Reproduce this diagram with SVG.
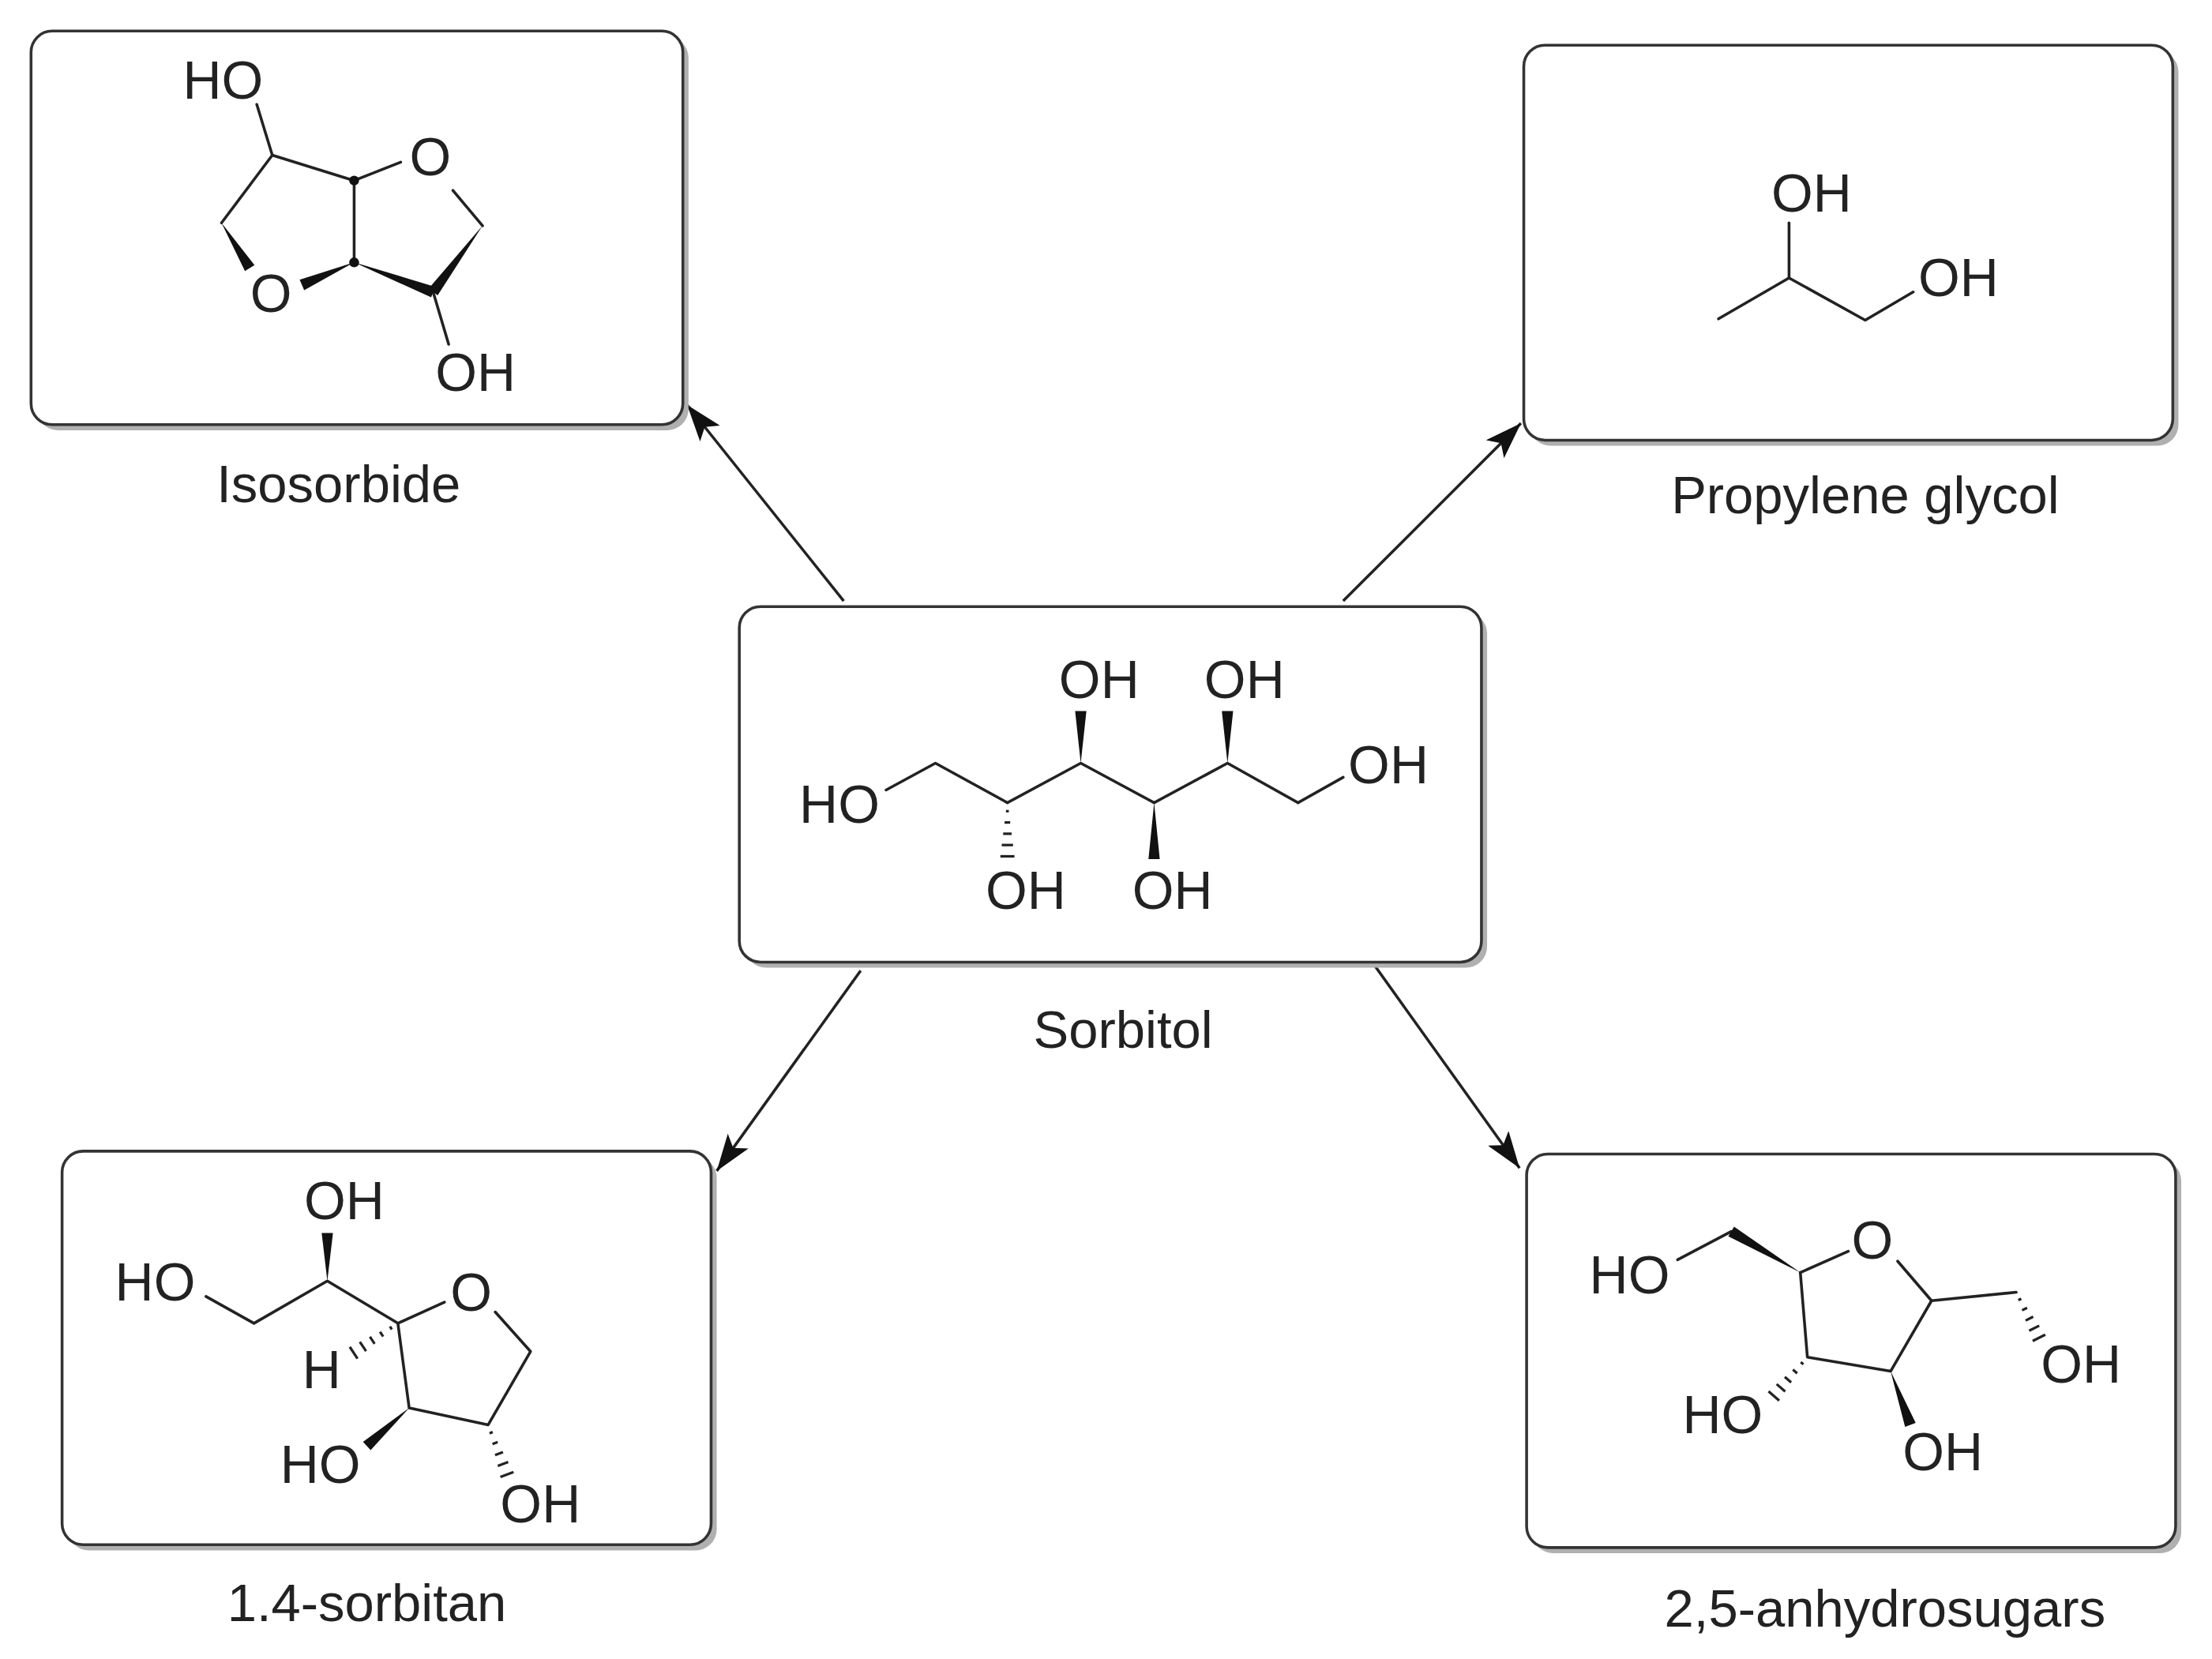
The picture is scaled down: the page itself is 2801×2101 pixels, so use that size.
<svg xmlns="http://www.w3.org/2000/svg" width="2801" height="2101" viewBox="0 0 2801 2101">
<style>
.shadow{fill:#b0b0b0}
.box{fill:#fff;stroke:#333;stroke-width:2}
.b{stroke:#222;stroke-width:2;fill:none;stroke-linecap:round;stroke-linejoin:round}
.h{stroke:#222;stroke-width:1.8;stroke-linecap:butt}
.w{fill:#111}
.t{font-family:"Liberation Sans",Arial,sans-serif;font-size:38px;fill:#222;text-anchor:middle}
.n{font-family:"Liberation Sans",Arial,sans-serif;font-size:37.5px;fill:#222;text-anchor:middle}
.arr{stroke:#222;stroke-width:2;fill:none;marker-end:url(#ah)}
</style>
<defs>
<marker id="ah" markerUnits="userSpaceOnUse" markerWidth="28" markerHeight="18" refX="26" refY="9" orient="auto">
<path d="M0,0 L26,9 L0,18 L6,9 Z" fill="#111"/>
</marker>
</defs>
<rect width="2801" height="2101" fill="#fff"/>
<g transform="scale(1.7866)">
<g id="connectors">
<line class="arr" x1="598" y1="426" x2="487" y2="287"/>
<line class="arr" x1="952" y1="426" x2="1078" y2="300"/>
<line class="arr" x1="610" y1="688" x2="508" y2="830"/>
<line class="arr" x1="974" y1="684" x2="1077" y2="828"/>
</g>
<g id="isosorbide">
<rect class="shadow" x="26" y="26" width="462" height="279" rx="15"/>
<rect class="box" x="22" y="22" width="462" height="279" rx="15"/>
<text class="t" x="158" y="70">HO</text>
<text class="t" x="305" y="124">O</text>
<text class="t" x="192" y="221">O</text>
<text class="t" x="337" y="277">OH</text>
<polyline class="b" points="182,74 193,110 251,128 251,186"/>
<line class="b" x1="251" y1="128" x2="284" y2="115"/>
<line class="b" x1="321" y1="135" x2="342" y2="160"/>
<line class="b" x1="157" y1="158" x2="193" y2="110"/>
<line class="b" x1="307" y1="207" x2="318" y2="244"/>
<polygon class="w" points="342,160 310.2,209.4 303.8,204.6"/>
<polygon class="w" points="251,186 305.6,210.75 308.4,203.25"/>
<polygon class="w" points="251,186 212.4,198.3 215.6,205.7"/>
<polygon class="w" points="157,158 173.6,192.1 180.4,187.9"/>
<circle class="w" cx="251" cy="128" r="3.5"/>
<circle class="w" cx="251" cy="186" r="3.5"/>
<text class="n" x="240" y="356">Isosorbide</text>
</g>
<g id="propylene-glycol">
<rect class="shadow" x="1084" y="36" width="460" height="280" rx="15"/>
<rect class="box" x="1080" y="32" width="460" height="280" rx="15"/>
<text class="t" x="1284" y="150">OH</text>
<text class="t" x="1388" y="210">OH</text>
<polyline class="b" points="1218,226 1268,197 1322,227 1356,207"/>
<line class="b" x1="1268" y1="197" x2="1268" y2="158"/>
<text class="n" x="1322" y="364">Propylene glycol</text>
</g>
<g id="sorbitol">
<rect class="shadow" x="528" y="434" width="526" height="252" rx="15"/>
<rect class="box" x="524" y="430" width="526" height="252" rx="15"/>
<text class="t" x="595" y="583">HO</text>
<text class="t" x="779" y="495">OH</text>
<text class="t" x="882" y="495">OH</text>
<text class="t" x="984" y="555">OH</text>
<text class="t" x="727" y="644">OH</text>
<text class="t" x="831" y="644">OH</text>
<polyline class="b" points="628,560 663,541 714,569 766,541 818,569 870,541 920,569 952,551"/>
<polygon class="w" points="766,541 762,504 770,504"/>
<polygon class="w" points="870,541 866,504 874,504"/>
<polygon class="w" points="818,569 814,609 822,609"/>
<line class="h" x1="713" y1="575" x2="715" y2="575"/>
<line class="h" x1="712" y1="583" x2="716" y2="583"/>
<line class="h" x1="711" y1="591" x2="717" y2="591"/>
<line class="h" x1="710" y1="599" x2="718" y2="599"/>
<line class="h" x1="709" y1="607" x2="719" y2="607"/>
<text class="n" x="796" y="743">Sorbitol</text>
</g>
<g id="sorbitan">
<rect class="shadow" x="48" y="820" width="460" height="279" rx="15"/>
<rect class="box" x="44" y="816" width="460" height="279" rx="15"/>
<text class="t" x="244" y="864">OH</text>
<text class="t" x="110" y="922">HO</text>
<text class="t" x="334" y="929">O</text>
<text class="t" x="228" y="984">H</text>
<text class="t" x="227" y="1051">HO</text>
<text class="t" x="383" y="1079">OH</text>
<polyline class="b" points="146,919 180,938 232,908 282,938 315,923"/>
<polyline class="b" points="351,930 376,958 346,1010 290,998 282,938"/>
<polygon class="w" points="232,908 228,874 236,874"/>
<polygon class="w" points="290,998 257.3,1022 262.7,1028"/>
<line class="h" x1="276.4" y1="940.3" x2="277.7" y2="942.3"/>
<line class="h" x1="269.35" y1="944.04" x2="271.55" y2="947.36"/>
<line class="h" x1="262.2" y1="947.6" x2="265.5" y2="952.6"/>
<line class="h" x1="255.05" y1="951.2" x2="259.45" y2="957.8"/>
<line class="h" x1="247.9" y1="954.75" x2="253.4" y2="963.05"/>
<line class="h" x1="347" y1="1016" x2="349.2" y2="1015.1"/>
<line class="h" x1="349.04" y1="1023.65" x2="352.76" y2="1022.25"/>
<line class="h" x1="350.9" y1="1031.4" x2="356.5" y2="1029.3"/>
<line class="h" x1="352.8" y1="1039.15" x2="360.2" y2="1036.35"/>
<line class="h" x1="354.65" y1="1046.9" x2="363.95" y2="1043.4"/>
<text class="n" x="260" y="1149">1.4-sorbitan</text>
</g>
<g id="anhydrosugars">
<rect class="shadow" x="1086" y="822" width="460" height="279" rx="15"/>
<rect class="box" x="1082" y="818" width="460" height="279" rx="15"/>
<text class="t" x="1155" y="917">HO</text>
<text class="t" x="1327" y="892">O</text>
<text class="t" x="1475" y="980">OH</text>
<text class="t" x="1377" y="1042">OH</text>
<text class="t" x="1221" y="1016">HO</text>
<line class="b" x1="1189" y1="893" x2="1227" y2="873"/>
<line class="b" x1="1276" y1="902" x2="1310" y2="887"/>
<polyline class="b" points="1345,894 1369,922 1429,916"/>
<polyline class="b" points="1369,922 1340,972 1281,962 1276,902"/>
<polygon class="w" points="1276,902 1229.04,869.56 1224.96,876.44"/>
<polygon class="w" points="1340,972 1350.25,1011.38 1357.75,1008.62"/>
<line class="h" x1="1430.5" y1="921.6" x2="1432.6" y2="920.6"/>
<line class="h" x1="1433.16" y1="928.79" x2="1436.74" y2="927.01"/>
<line class="h" x1="1435.67" y1="936.04" x2="1441.03" y2="933.36"/>
<line class="h" x1="1438.17" y1="943.29" x2="1445.33" y2="939.71"/>
<line class="h" x1="1440.68" y1="950.54" x2="1449.62" y2="946.06"/>
<line class="h" x1="1276.34" y1="965.57" x2="1278.16" y2="967.13"/>
<line class="h" x1="1270.74" y1="970.84" x2="1273.76" y2="973.46"/>
<line class="h" x1="1264.98" y1="975.99" x2="1269.52" y2="979.91"/>
<line class="h" x1="1259.22" y1="981.14" x2="1265.28" y2="986.36"/>
<line class="h" x1="1253.46" y1="986.28" x2="1261.04" y2="992.82"/>
<text class="n" x="1336" y="1153">2,5-anhydrosugars</text>
</g>
</g>
</svg>
